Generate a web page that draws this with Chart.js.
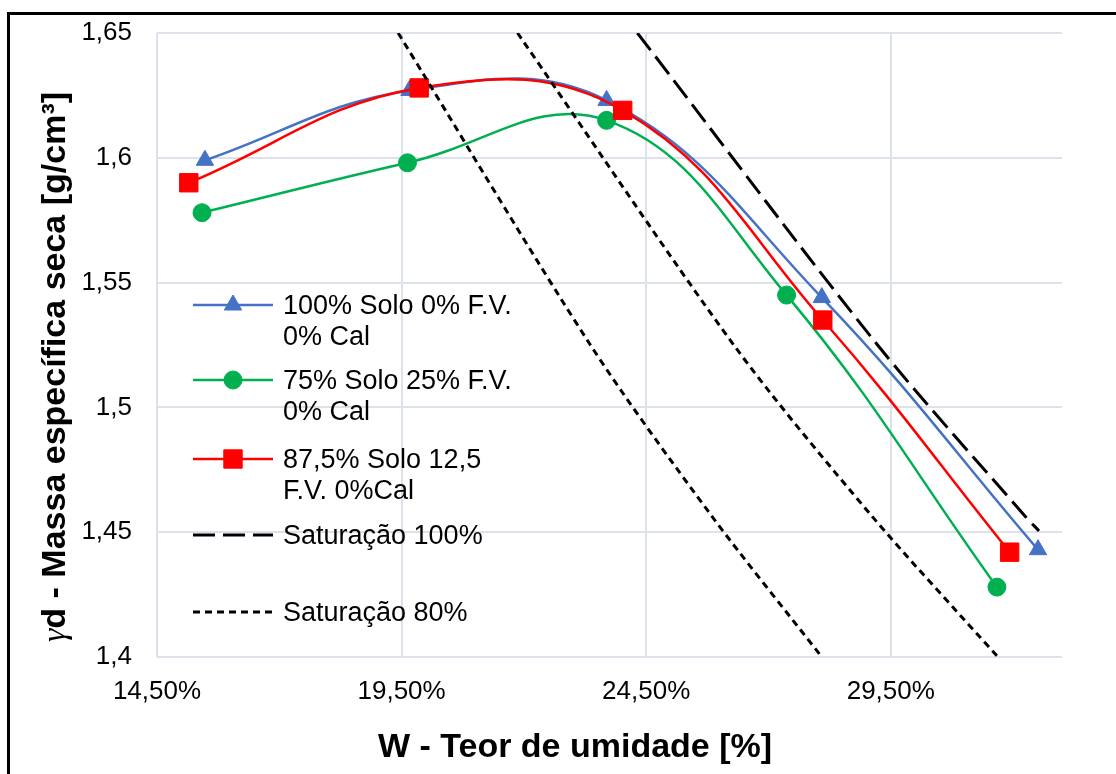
<!DOCTYPE html>
<html>
<head>
<meta charset="utf-8">
<script src="https://cdn.jsdelivr.net/npm/chart.js@4.4.1/dist/chart.umd.min.js"></script>
<style>
  html, body { margin: 0; padding: 0; background: #fff; overflow: hidden; }
  canvas { display: block; }
</style>
</head>
<body>
<canvas id="chart" width="1116" height="774"></canvas>
<script>
// axis ticks
const xTicks = [14.5, 19.5, 24.5, 29.5];
const yTicks = [1.4, 1.45, 1.5, 1.55, 1.6, 1.65];

// W (%) and dry density (g/cm3) per mix
const wSolo100 = [15.48, 19.66, 23.69, 28.09, 32.51];
const gdSolo100 = [1.599, 1.627, 1.623, 1.544, 1.443];

const wSolo75 = [15.42, 19.62, 23.69, 27.37, 31.67];
const gdSolo75 = [1.578, 1.598, 1.615, 1.545, 1.428];

const wSolo875 = [15.15, 19.86, 24.02, 28.11, 31.93];
const gdSolo875 = [1.590, 1.628, 1.619, 1.535, 1.442];

// saturation curves
const wSat100 = [24.32, 29.23, 32.22, 32.53];
const gdSat100 = [1.65, 1.525, 1.457, 1.4505];

const wSat90 = [21.87, 26.29, 29.09, 31.69];
const gdSat90 = [1.65, 1.525, 1.457, 1.40];

const wSat80 = [19.43, 23.36, 25.82, 28.09];
const gdSat80 = [1.65, 1.525, 1.457, 1.40];

const legendLines = [
  ["100% Solo 0% F.V.", "0% Cal"],
  ["75% Solo 25% F.V.", "0% Cal"],
  ["87,5% Solo 12,5", "F.V. 0%Cal"],
  ["Saturação 100%"],
  ["Saturação 80%"]
];

const FONT = '"Liberation Sans", Arial, sans-serif';
const GRID = "#dde1ea";

const pts = (xs, ys) => xs.map((x, i) => ({ x, y: ys[i] }));

const serie = (label, xs, ys, color, style, radius, order) => ({
  label,
  data: pts(xs, ys),
  borderColor: color,
  backgroundColor: color,
  borderWidth: 2.5,
  pointStyle: style,
  pointRadius: radius,
  pointBackgroundColor: color,
  pointBorderColor: color,
  pointBorderWidth: 1,
  tension: 0.4,
  order,
});

const satLine = (label, xs, ys, dash, order) => ({
  label,
  data: pts(xs, ys),
  borderColor: "#000",
  borderWidth: 3,
  borderDash: dash,
  pointRadius: 0,
  tension: 0.3,
  fill: false,
  order,
});

const datasets = [
  serie("100% Solo 0% F.V. 0% Cal", wSolo100, gdSolo100, "#4472c4", "triangle", 10, 6),
  serie("75% Solo 25% F.V. 0% Cal", wSolo75, gdSolo75, "#00b050", "circle", 9, 5),
  serie("87,5% Solo 12,5 F.V. 0%Cal", wSolo875, gdSolo875, "#ff0000", "rect", 13, 4),
  satLine("Saturação 100%", wSat100, gdSat100, [22, 8], 1),
  satLine("Saturação 80%", wSat80, gdSat80, [7, 5], 2),
  satLine("Saturação 90%", wSat90, gdSat90, [7, 5], 3),
];

const decor = {
  id: "decor",
  beforeDraw(chart) {
    const ctx = chart.ctx;
    ctx.save();
    ctx.fillStyle = "#000";
    ctx.fillRect(7, 12, 1116, 3);
    ctx.fillRect(7, 12, 3, 774);
    ctx.restore();
  },
  afterDraw(chart) {
    const ctx = chart.ctx;
    ctx.save();
    ctx.fillStyle = "#000";

    // x title
    ctx.font = "bold 34px " + FONT;
    ctx.textAlign = "center";
    ctx.textBaseline = "alphabetic";
    ctx.fillText("W - Teor de umidade [%]", 575, 757);

    // y title, gamma in a serif italic
    ctx.save();
    ctx.translate(65, 367);
    ctx.rotate(-Math.PI / 2);
    const gFont = 'italic 34px "Liberation Serif", "DejaVu Serif", serif';
    const rFont = "bold 34px " + FONT;
    const rest = "d - Massa específica seca [g/cm³]";
    ctx.font = gFont;
    const gw = ctx.measureText("γ").width;
    ctx.font = rFont;
    const rw = ctx.measureText(rest).width;
    const x0 = -(gw + rw) / 2;
    ctx.textAlign = "left";
    ctx.font = gFont;
    ctx.fillText("γ", x0, 0);
    ctx.font = rFont;
    ctx.fillText(rest, x0 + gw, 0);
    ctx.restore();

    // legend inside plot
    const rows = [305, 380, 459, 535, 612];
    ctx.font = "27px " + FONT;
    ctx.textAlign = "left";
    rows.forEach((cy, i) => {
      const ds = chart.data.datasets[i];
      ctx.save();
      ctx.strokeStyle = ds.borderColor;
      ctx.lineWidth = ds.borderWidth;
      ctx.setLineDash(ds.borderDash || []);
      ctx.beginPath();
      ctx.moveTo(193, cy);
      ctx.lineTo(273, cy);
      ctx.stroke();
      ctx.setLineDash([]);
      if (ds.pointRadius) {
        ctx.fillStyle = ds.pointBackgroundColor;
        ctx.strokeStyle = ds.pointBorderColor;
        ctx.lineWidth = 1;
        Chart.helpers.drawPoint(ctx, {
          pointStyle: ds.pointStyle,
          radius: ds.pointRadius,
          rotation: 0,
          borderWidth: 1,
        }, 233, cy);
      }
      ctx.restore();
      legendLines[i].forEach((t, k) => {
        ctx.fillText(t, 283, cy + 9 + k * 31);
      });
    });
    ctx.restore();
  },
};

new Chart(document.getElementById("chart"), {
  type: "line",
  data: { datasets },
  plugins: [decor],
  options: {
    responsive: false,
    animation: false,
    devicePixelRatio: 1,
    events: [],
    layout: { padding: { left: 0, top: 33, right: 54, bottom: 0 } },
    plugins: {
      legend: { display: false },
      tooltip: { enabled: false },
    },
    scales: {
      x: {
        type: "linear",
        min: 14.5,
        max: 33.0,
        afterBuildTicks: (s) => { s.ticks = xTicks.map((v) => ({ value: v })); },
        afterFit: (s) => { s.height = 117; },
        grid: { color: GRID, lineWidth: 2, drawTicks: false },
        border: { display: false },
        ticks: {
          autoSkip: false,
          maxRotation: 0,
          padding: 19,
          color: "#000",
          font: { family: FONT, size: 26 },
          callback: (v) => v.toFixed(2).replace(".", ",") + "%",
        },
      },
      y: {
        min: 1.4,
        max: 1.65,
        afterBuildTicks: (s) => { s.ticks = yTicks.map((v) => ({ value: v })); },
        afterFit: (s) => { s.width = 157; },
        grid: { color: GRID, lineWidth: 2, drawTicks: true, tickLength: 25, tickColor: "rgba(0,0,0,0)" },
        border: { display: false },
        ticks: {
          padding: 0,
          color: "#000",
          font: { family: FONT, size: 26 },
          callback: (v) => String(Math.round(v * 100) / 100).replace(".", ","),
        },
      },
    },
  },
});
</script>
</body>
</html>
